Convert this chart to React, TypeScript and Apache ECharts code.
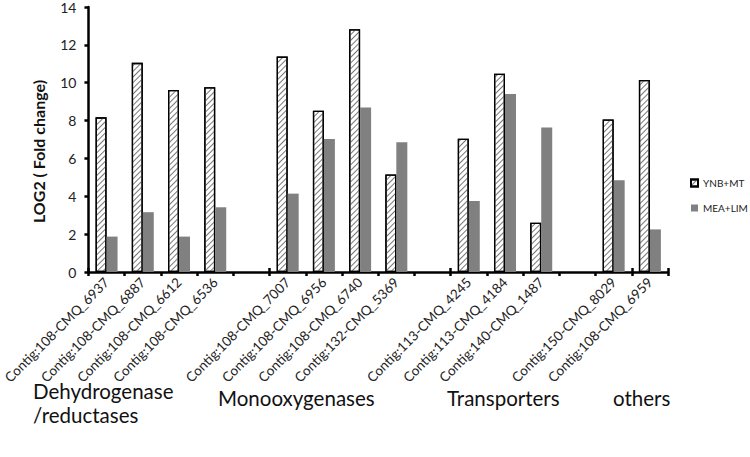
import React, { useEffect, useRef } from "react";
import * as echarts from "echarts";

const categories = [
  "Contig:108-CMQ_6937", "Contig:108-CMQ_6887", "Contig:108-CMQ_6612", "Contig:108-CMQ_6536",
  "",
  "Contig:108-CMQ_7007", "Contig:108-CMQ_6956", "Contig:108-CMQ_6740", "Contig:132-CMQ_5369",
  " ",
  "Contig:113-CMQ_4245", "Contig:113-CMQ_4184", "Contig:140-CMQ_1487",
  "  ",
  "Contig:150-CMQ_8029", "Contig:108-CMQ_6959",
];
const ynbMt = [8.17, 11.05, 9.62, 9.76, null, 11.38, 8.52, 12.83, 5.15, null, 7.04, 10.47, 2.6, null, 8.06, 10.14];
const meaLim = [1.87, 3.16, 1.87, 3.42, null, 4.14, 7.02, 8.69, 6.86, null, 3.75, 9.41, 7.64, null, 4.85, 2.25];
const seriesNames = ["YNB+MT", "MEA+LIM"];
const yTicks = { min: 0, max: 14, interval: 2 };
const groupLabels = [
  { text: "Dehydrogenase\n/reductases", x: 33, y: 379 },
  { text: "Monooxygenases", x: 218, y: 386 },
  { text: "Transporters", x: 447, y: 386 },
  { text: "others", x: 613, y: 386 },
];

const FONT = "Lato";

export default function App() {
  const ref = useRef<HTMLDivElement>(null);
  useEffect(() => {
    if (!ref.current) return;
    const chart = echarts.init(ref.current, null, { renderer: "svg" });
    chart.setOption({
      animation: false,
      textStyle: { fontFamily: FONT },
      grid: { left: 80, top: 4, width: 588, height: 268 },
      legend: {
        orient: "vertical",
        left: 690,
        top: 178,
        padding: 0,
        itemWidth: 7,
        itemHeight: 7,
        itemGap: 15,
        icon: "rect",
        textStyle: { fontFamily: FONT, fontSize: 10, color: "#222" },
        data: seriesNames,
      },
      xAxis: [
        {
          type: "category",
          data: categories,
          axisLine: { lineStyle: { color: "#000", width: 2.5 } },
          axisTick: { show: true, length: 4, lineStyle: { color: "#000", width: 2.5 } },
          axisLabel: {
            rotate: 45,
            interval: 0,
            fontFamily: FONT,
            fontSize: 13.5,
            color: "#222",
            margin: 8,
          },
        },
        {
          type: "category",
          data: categories,
          position: "bottom",
          axisLine: { show: false },
          axisTick: { show: true, inside: true, length: 4, lineStyle: { color: "#000", width: 2.5 } },
          axisLabel: { show: false },
        },
      ],
      yAxis: {
        type: "value",
        min: yTicks.min,
        max: yTicks.max,
        interval: yTicks.interval,
        name: "LOG2 ( Fold change)",
        nameLocation: "middle",
        nameGap: 42,
        nameTextStyle: {
          fontFamily: FONT,
          fontSize: 16,
          fontWeight: "bold",
          color: "#111",
          padding: [0, 24, 0, 0],
        },
        splitLine: { show: false },
        axisLine: { show: true, lineStyle: { color: "#000", width: 2.5 } },
        axisTick: { show: true, length: 4, lineStyle: { color: "#000", width: 2.5 } },
        axisLabel: { fontFamily: FONT, fontSize: 14, color: "#222", margin: 12 },
      },
      series: [
        {
          name: seriesNames[0],
          type: "bar",
          data: ynbMt,
          barWidth: 11,
          barGap: "0%",
          itemStyle: {
            color: "#fff",
            borderColor: "#000",
            borderWidth: 1.3,
            decal: {
              symbol: "rect",
              symbolSize: 1,
              dashArrayX: [1, 0],
              dashArrayY: [1, 2.5],
              rotation: -Math.PI / 4,
              color: "#777",
              backgroundColor: "#fff",
            },
          },
        },
        {
          name: seriesNames[1],
          type: "bar",
          data: meaLim,
          barWidth: 11,
          barGap: "0%",
          itemStyle: { color: "#808080" },
        },
      ],
      graphic: groupLabels.map((g) => ({
        type: "text",
        x: g.x,
        y: g.y,
        style: { text: g.text, font: `20.5px ${FONT}`, fill: "#111", lineHeight: 24 },
      })),
    });
    return () => chart.dispose();
  }, []);
  return <div ref={ref} style={{ position: "absolute", left: 0, top: 0, width: 750, height: 457 }} />;
}
